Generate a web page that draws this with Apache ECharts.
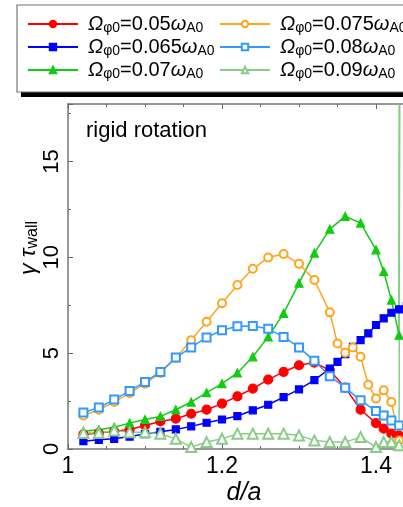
<!DOCTYPE html>
<html><head><meta charset="utf-8">
<script src="https://cdn.jsdelivr.net/npm/echarts@6/dist/echarts.min.js"></script>
<style>html,body{margin:0;padding:0;background:#fff}#c{width:403px;height:507px}</style>
</head><body><div id="c"></div>
<script>
// ---- data ----
const seriesNames = ['0.05','0.065','0.07','0.075','0.08','0.09'];
const xTicks = [1, 1.2, 1.4];
const yTicks = [0, 5, 10, 15];

const xRed   = [1.02,1.04,1.06,1.08,1.10,1.12,1.14,1.16,1.18,1.20,1.22,1.24,1.26,1.28,1.30,1.32,1.34,1.36,1.38,1.40,1.41,1.42,1.43];
const yRed   = [0.76,0.83,0.92,1.02,1.23,1.44,1.58,1.84,2.05,2.37,2.75,3.15,3.62,4.02,4.37,4.51,4.11,3.20,2.05,1.35,1.06,0.80,0.70];

const xBlue  = [1.02,1.04,1.06,1.08,1.10,1.12,1.14,1.16,1.18,1.20,1.22,1.24,1.26,1.28,1.30,1.32,1.34,1.35,1.36,1.37,1.38,1.39,1.40,1.41,1.42,1.43,1.44];
const yBlue  = [0.41,0.48,0.53,0.65,0.78,0.90,1.02,1.18,1.37,1.54,1.72,2.02,2.31,2.71,3.11,3.59,4.20,4.55,4.95,5.33,5.68,6.03,6.47,6.82,7.11,7.29,7.45];

const xGreen = [1.02,1.04,1.06,1.08,1.10,1.12,1.14,1.16,1.18,1.20,1.22,1.24,1.26,1.28,1.30,1.32,1.34,1.36,1.38,1.40,1.41,1.42,1.43,1.432];
const yGreen = [0.92,1.00,1.14,1.35,1.54,1.70,2.05,2.45,2.94,3.41,3.97,4.81,5.85,7.08,8.65,10.22,11.47,12.14,11.79,10.39,9.26,7.77,5.94,60];

const xOrange = [1.02,1.04,1.06,1.08,1.10,1.12,1.14,1.16,1.18,1.20,1.22,1.24,1.26,1.28,1.30,1.32,1.34,1.35,1.36,1.37,1.38,1.39,1.40,1.41,1.42,1.43];
const yOrange = [1.75,2.05,2.45,2.92,3.41,3.97,4.75,5.68,6.64,7.60,8.56,9.40,9.99,10.17,9.66,8.82,7.13,5.50,5.02,5.30,4.81,3.35,2.63,3.06,2.45,0.45];

const xLBlue = [1.02,1.04,1.06,1.08,1.10,1.12,1.14,1.16,1.18,1.20,1.22,1.24,1.26,1.28,1.30,1.32,1.34,1.36,1.38,1.40,1.41,1.42,1.43];
const yLBlue = [1.90,2.16,2.58,3.03,3.50,4.02,4.77,5.30,5.82,6.20,6.40,6.42,6.27,5.85,5.30,4.60,3.80,3.20,2.54,1.98,1.75,1.49,1.23];

const xLGreen = [1.02,1.04,1.06,1.08,1.10,1.12,1.14,1.16,1.18,1.20,1.22,1.24,1.26,1.28,1.30,1.32,1.34,1.36,1.38,1.40,1.41,1.42,1.43,1.432];
const yLGreen = [0.83,0.83,0.97,0.88,0.88,0.80,0.53,0.10,0.36,0.53,0.80,0.80,0.80,0.80,0.71,0.45,0.36,0.36,0.62,0.10,0.36,0.36,0.20,60];

// ---- chart ----
const pair = (xs, ys) => xs.map((x, i) => [x, ys[i]]);
const FONT = '"Liberation Sans", Arial, Helvetica, sans-serif';

function mk(name, xs, ys, color, symbol, size) {
  return {
    name, type: 'line', data: pair(xs, ys), color,
    symbol, symbolSize: size, showSymbol: true,
    lineStyle: { width: 1.5, color },
    itemStyle: { color, borderColor: color, borderWidth: 1.2 },
    emphasis: { disabled: true }, animation: false, clip: true, z: 3
  };
}

const rich = {
  f: { fontFamily: FONT, fontSize: 20, fontStyle: 'italic', color: '#000', lineHeight: 22, padding: [0,0,0,5] },
  o: { fontFamily: FONT, fontSize: 20, fontStyle: 'italic', color: '#000', lineHeight: 22 },
  n: { fontFamily: FONT, fontSize: 20, color: '#000', lineHeight: 22 },
  s: { fontFamily: FONT, fontSize: 14, color: '#000', lineHeight: 14, verticalAlign: 'bottom' }
};
const fmt = name => '{f|Ω}{s|φ0}{n|=' + name + '}{o|ω}{s|A0}';

const legendBase = {
  orient: 'vertical', top: 14, padding: 0, itemGap: 2,
  itemWidth: 50, itemHeight: 8, formatter: fmt,
  textStyle: { rich }, selectedMode: false
};

const axisCommon = {
  axisLine: { show: true, lineStyle: { color: '#777', width: 1.5 } },
  axisTick: { show: true, inside: true, length: 5, lineStyle: { color: '#666' } },
  minorTick: { show: true, length: 3, lineStyle: { color: '#666' } },
  splitLine: { show: false }
};

const chart = echarts.init(document.getElementById('c'), null, { renderer: 'canvas' });
chart.setOption({
  animation: false,
  backgroundColor: '#fff',
  grid: { left: 68, top: 104, width: 385, bottom: 58, outerBoundsMode: 'none', containLabel: false },
  xAxis: [
    Object.assign({}, axisCommon, {
      type: 'value', min: 1, max: 1.5, interval: 0.2, position: 'bottom',
      minorTick: Object.assign({}, axisCommon.minorTick, { splitNumber: 4 }),
      axisLabel: { fontFamily: FONT, fontSize: 23, color: '#000', margin: 6, showMaxLabel: false,
        formatter: v => xTicks.some(t => Math.abs(t - v) < 1e-6) ? String(+v.toFixed(1)) : '' }
    }),
    Object.assign({}, axisCommon, {
      type: 'value', min: 1, max: 1.5, interval: 0.2, position: 'top',
      minorTick: Object.assign({}, axisCommon.minorTick, { splitNumber: 4 }),
      axisLabel: { show: false }
    })
  ],
  yAxis: [
    Object.assign({}, axisCommon, {
      type: 'value', min: 0, max: 18, interval: 5,
      minorTick: Object.assign({}, axisCommon.minorTick, { splitNumber: 2 }),
      axisLabel: { fontFamily: FONT, fontSize: 22, color: '#000', rotate: 90, margin: 5, showMaxLabel: false,
        formatter: v => yTicks.indexOf(v) >= 0 ? String(v) : '' }
    })
  ],
  legend: [
    Object.assign({}, legendBase, { left: 27, data: seriesNames.slice(0, 3) }),
    Object.assign({}, legendBase, { left: 219, data: seriesNames.slice(3) })
  ],
  title: {
    text: 'rigid rotation', left: 86, top: 120, padding: 0,
    textStyle: { fontFamily: FONT, fontSize: 22, fontWeight: 'normal', color: '#000' }
  },
  graphic: [
    { type: 'rect', z: -11, shape: { x: 21, y: 10, width: 420, height: 87 },
      style: { fill: '#000' } },
    { type: 'rect', z: -10, shape: { x: 17, y: 5, width: 420, height: 87 },
      style: { fill: '#fff', stroke: '#777', lineWidth: 1.2 } },
    { type: 'text', x: 29, y: 248, rotation: Math.PI / 2, z: 10,
      style: { text: '{g|γ τ}{w|wall}', align: 'center', verticalAlign: 'middle',
        rich: {
          g: { fontFamily: FONT, fontSize: 23, fontStyle: 'italic', color: '#000', lineHeight: 24 },
          w: { fontFamily: FONT, fontSize: 16, color: '#000', lineHeight: 16, verticalAlign: 'bottom' }
        } } },
    { type: 'text', x: 244, y: 493, z: 10,
      style: { text: 'd/a', align: 'center', verticalAlign: 'middle',
        fontFamily: FONT, fontSize: 25, fontStyle: 'italic', fill: '#000' } }
  ],
  series: [
    mk('0.05',  xRed,    yRed,    '#ff0000', 'circle', 9),
    mk('0.065', xBlue,   yBlue,   '#0000ff', 'rect', 7),
    mk('0.07',  xGreen,  yGreen,  '#11cc11', 'triangle', 8),
    mk('0.075', xOrange, yOrange, '#ffa51e', 'emptyCircle', 8),
    mk('0.08',  xLBlue,  yLBlue,  '#3399ff', 'emptyRect', 8),
    mk('0.09',  xLGreen, yLGreen, '#88cc88', 'emptyTriangle', 10)
  ]
});
</script></body></html>
